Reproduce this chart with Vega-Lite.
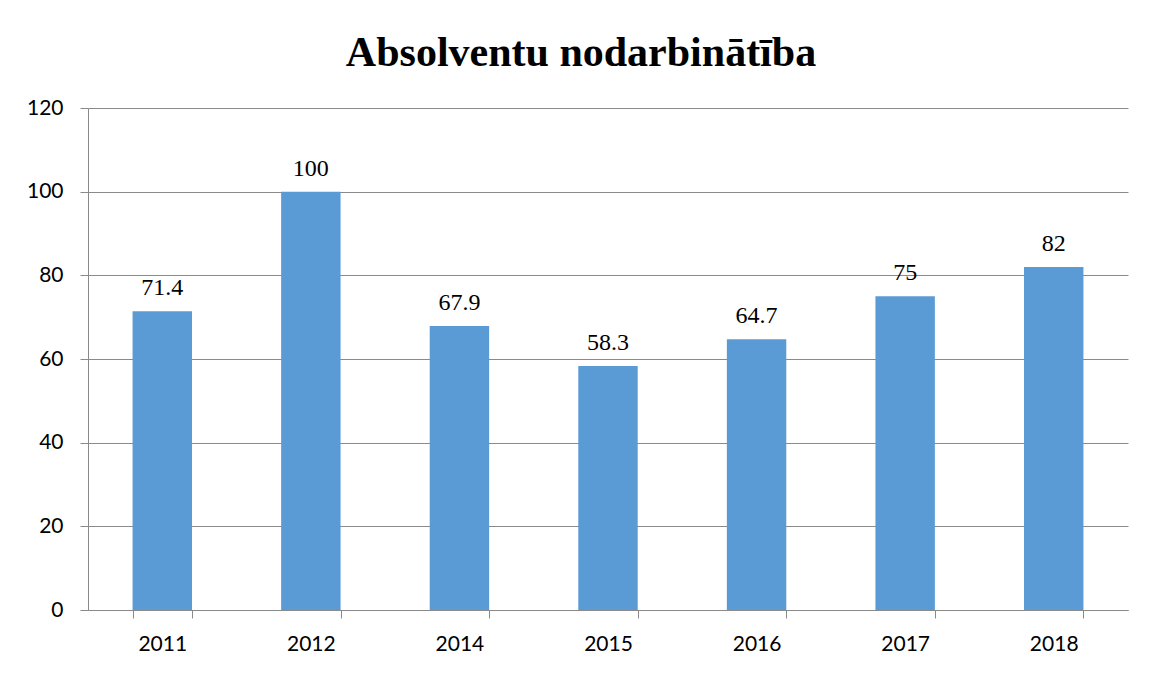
{
  "$schema": "https://vega.github.io/schema/vega-lite/v6.json",
  "width": 1040,
  "height": 502,
  "autosize": {"type": "none"},
  "padding": {"left": 88, "top": 108, "right": 25, "bottom": 63},
  "background": "white",
  "title": {
    "text": "Absolventu nodarbinātība",
    "font": "Liberation Serif",
    "fontSize": 42,
    "fontWeight": "bold",
    "color": "#000000",
    "anchor": "middle",
    "frame": "group",
    "dx": -27,
    "baseline": "alphabetic",
    "offset": -11
  },
  "data": {
    "values": [
      {"year": "2011", "value": 71.4},
      {"year": "2012", "value": 100},
      {"year": "2014", "value": 67.9},
      {"year": "2015", "value": 58.3},
      {"year": "2016", "value": 64.7},
      {"year": "2017", "value": 75},
      {"year": "2018", "value": 82}
    ]
  },
  "encoding": {
    "x": {
      "field": "year",
      "type": "ordinal",
      "sort": null,
      "scale": {"paddingInner": 0.6, "paddingOuter": 0.3},
      "axis": {
        "title": null,
        "labelAngle": 0,
        "labelFont": "Lato",
        "labelFontSize": 21,
        "labelColor": "#000000",
        "labelPadding": 15,
        "tickBand": "extent",
        "tickSize": 8,
        "tickColor": "#8a8a8a",
        "domainColor": "#8a8a8a",
        "grid": false
      }
    },
    "y": {
      "field": "value",
      "type": "quantitative",
      "scale": {"domain": [0, 120]},
      "axis": {
        "title": null,
        "values": [0, 20, 40, 60, 80, 100, 120],
        "labelFont": "Lato",
        "labelFontSize": 21,
        "labelColor": "#000000",
        "labelPadding": 17,
        "tickSize": 8,
        "tickColor": "#8a8a8a",
        "domainColor": "#8a8a8a",
        "grid": true,
        "gridColor": "#8a8a8a",
        "gridOpacity": 1
      }
    }
  },
  "layer": [
    {"mark": {"type": "bar", "color": "#5B9BD5"}},
    {
      "mark": {
        "type": "text",
        "baseline": "alphabetic",
        "dy": -16,
        "font": "Liberation Serif",
        "fontSize": 24,
        "color": "#000000"
      },
      "encoding": {"text": {"field": "value", "type": "quantitative"}}
    }
  ],
  "config": {"view": {"stroke": null}}
}
